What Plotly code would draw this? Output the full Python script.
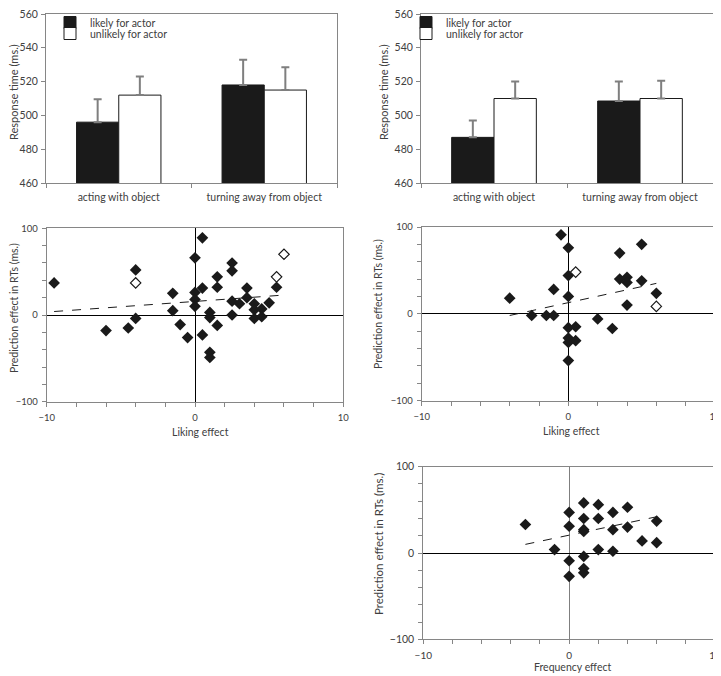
import plotly.graph_objects as go

# ---- top panels: response times (ms.) ----
conditions = ["acting with object", "turning away from object"]
left_likely = [496, 518]
left_likely_err = [13.5, 15]
left_unlikely = [512, 515]
left_unlikely_err = [11, 13.5]
right_likely = [487, 508.5]
right_likely_err = [10, 11.5]
right_unlikely = [510, 510]
right_unlikely_err = [10, 10.5]

# ---- middle-left scatter: liking effect vs prediction effect ----
ml_x = [-9.5, -4, -4, -6, -4.5, -1.5, -1.5, -1, -0.5, 0, 0, 0, 0, 0.5, 0.5, 0.5,
        1, 1, 1, 1, 1.5, 1.5, 1.5, 2.5, 2.5, 2.5, 2.5, 3, 3.5, 3.5, 4, 4, 4,
        4.5, 4.5, 5, 5.5]
ml_y = [37, 52, -4, -18, -15, 25, 5, -11, -26, 66, 26, 18, 10, 89, 31, -23,
        3, -3, -43, -49, 44, 32, -12, 60, 51, 16, 0, 13, 31, 20, 13, 6, -4,
        7, -2, 14, 32]
ml_open_x = [-4, 5.5, 6]
ml_open_y = [37, 44, 70]
ml_trend_x = [-9.5, 6]
ml_trend_y = [4, 23]

# ---- middle-right scatter ----
mr_x = [-0.5, 0, 0, 0, 0, 0, 0, 0, -4, -2.5, -1.5, -1, -1, 0.5, 0.5, 2, 3,
        3.5, 3.5, 4, 4, 4, 5, 5, 6]
mr_y = [91, 76, 44, 20, -16, -28, -33, -54, 18, -2, -2, -2, 28, -15, -31, -6,
        -17, 70, 40, 42, 36, 10, 80, 38, 23.5]
mr_open_x = [0.5, 6]
mr_open_y = [48, 8.5]
mr_trend_x = [-4, 6]
mr_trend_y = [-2, 35]

# ---- bottom scatter: frequency effect vs prediction effect ----
fr_x = [-3, -1, 0, 0, 0, 0, 1, 1, 1, 1, 1, 1, 1, 2, 2, 2, 3, 3, 3, 4, 4, 5, 6, 6]
fr_y = [33, 4, 47, 31, -9, -27, 58, 40, 27, 25, -4, -18, -23, 56, 40, 4, 47,
        27, 2, 53, 30, 14, 37, 12]
fr_trend_x = [-3, 6]
fr_trend_y = [10, 42]

FONT = "Lato, 'Open Sans', sans-serif"
TXT = "#404040"
AXC = "#868686"

W, H = 721, 676
OFF = 8  # page body margin

def px_x(p):
    return min(1, max(0, (p - OFF) / W))
def px_y(p):
    return min(1, max(0, 1 - (p - OFF) / H))
def dx(a, b):
    return [px_x(a), px_x(b)]
def dy(top, bottom):
    return [px_y(bottom), px_y(top)]

fig = go.Figure()

# bar panels
for ax, legs, likely, likely_err, unlikely, unlikely_err in [
        ("", ("legend", "legend2"), left_likely, left_likely_err, left_unlikely, left_unlikely_err),
        ("2", ("legend3", "legend4"), right_likely, right_likely_err, right_unlikely, right_unlikely_err)]:
    fig.add_trace(go.Bar(
        x=conditions, y=likely, name="likely for actor",
        marker=dict(color="#1a1a1a", line=dict(color="#1a1a1a", width=1)),
        error_y=dict(type="data", array=likely_err, arrayminus=[0, 0], symmetric=False,
                     color="#7f7f7f", thickness=2, width=4),
        xaxis="x" + ax, yaxis="y" + ax, legend=legs[0]))
    fig.add_trace(go.Bar(
        x=conditions, y=unlikely, name="unlikely for actor",
        marker=dict(color="white", line=dict(color="#1a1a1a", width=1)),
        error_y=dict(type="data", array=unlikely_err, arrayminus=[0, 0], symmetric=False,
                     color="#7f7f7f", thickness=2, width=4),
        xaxis="x" + ax, yaxis="y" + ax, legend=legs[1]))

# scatter panels
def add_scatter(ax, xs, ys, ox, oy, tx, ty, size):
    fig.add_trace(go.Scatter(x=tx, y=ty, mode="lines", showlegend=False,
                             line=dict(color="#1a1a1a", width=1, dash="dash"),
                             xaxis="x" + ax, yaxis="y" + ax))
    fig.add_trace(go.Scatter(x=xs, y=ys, mode="markers", showlegend=False,
                             marker=dict(symbol="diamond", size=size, color="#1a1a1a"),
                             xaxis="x" + ax, yaxis="y" + ax))
    if ox:
        fig.add_trace(go.Scatter(x=ox, y=oy, mode="markers", showlegend=False,
                                 marker=dict(symbol="diamond", size=size - 1, color="white",
                                             line=dict(color="#1a1a1a", width=1.2)),
                                 xaxis="x" + ax, yaxis="y" + ax))

add_scatter("3", ml_x, ml_y, ml_open_x, ml_open_y, ml_trend_x, ml_trend_y, 9)
add_scatter("4", mr_x, mr_y, mr_open_x, mr_open_y, mr_trend_x, mr_trend_y, 9)
add_scatter("5", fr_x, fr_y, [], [], fr_trend_x, fr_trend_y, 9)

common = dict(showline=True, linecolor=AXC, mirror=True, ticks="outside", ticklen=4,
              tickcolor=AXC, showgrid=False, automargin=False, ticklabeloverflow="allow")

bar_x = dict(common, type="category", tickson="boundaries",
             tickfont=dict(size=10.5, color=TXT), ticklabelstandoff=4)
bar_y = dict(common, range=[460, 560], dtick=20, zeroline=False,
             tickfont=dict(size=10.5, color=TXT), ticklabelstandoff=1)

def sc_x(size, zc="black"):
    return dict(common, range=[-10, 10], dtick=10,
                zeroline=True, zerolinecolor=zc, zerolinewidth=1, ticklabelstandoff=3,
                minor=dict(dtick=2, ticks="outside", ticklen=4, tickcolor=AXC),
                tickfont=dict(size=size, color=TXT))
def sc_y(size):
    return dict(common, range=[-100, 100], dtick=100,
                zeroline=True, zerolinecolor="black", zerolinewidth=1, ticklabelstandoff=2,
                minor=dict(dtick=20, ticks="outside", ticklen=4, tickcolor=AXC),
                tickfont=dict(size=size, color=TXT))

def leg(x, y):
    return dict(x=px_x(x), y=px_y(y), xanchor="left", yanchor="top",
                bgcolor="rgba(0,0,0,0)", font=dict(size=10.5, color=TXT), itemwidth=30)

fig.update_layout(
    width=W, height=H, margin=dict(l=0, r=0, t=0, b=0, autoexpand=False),
    paper_bgcolor="white", plot_bgcolor="white",
    font=dict(family=FONT, size=11, color=TXT),
    barmode="group", bargap=0.42, bargroupgap=0,
    xaxis=dict(bar_x, domain=dx(46, 337), anchor="y"),
    yaxis=dict(bar_y, domain=dy(14, 183), anchor="x"),
    xaxis2=dict(bar_x, domain=dx(421, 713), anchor="y2"),
    yaxis2=dict(bar_y, domain=dy(14, 183), anchor="x2"),
    xaxis3=dict(sc_x(9.5), domain=dx(46.7, 343.3), anchor="y3"),
    yaxis3=dict(sc_y(9.5), domain=dy(228.3, 401.7), anchor="x3"),
    xaxis4=dict(sc_x(9.5), domain=dx(421.7, 715), anchor="y4"),
    yaxis4=dict(sc_y(9.5), domain=dy(227, 400.5), anchor="x4"),
    xaxis5=dict(sc_x(10, zc="#7f7f7f"), domain=dx(423.3, 715), anchor="y5"),
    yaxis5=dict(sc_y(10.5), domain=dy(466.7, 639.3), anchor="x5"),
    legend=leg(50, 4),
    legend2=leg(50, 19),
    legend3=leg(406, 4),
    legend4=leg(406, 19),
)

# axis titles
titles = [
    ("Response time (ms.)", 14, 92, -90, 11),
    ("Response time (ms.)", 384, 92, -90, 11),
    ("Prediction effect in RTs (ms.)", 14, 308, -90, 10.5),
    ("Prediction effect in RTs (ms.)", 378, 304, -90, 10.5),
    ("Prediction effect in RTs (ms.)", 378, 544, -90, 11.5),
    ("Liking effect", 200, 432, 0, 10.5),
    ("Liking effect", 571, 431, 0, 10.5),
    ("Frequency effect", 572, 667, 0, 10.5),
]
for text, px, py, ang, sz in titles:
    fig.add_annotation(text=text, x=px_x(px), y=px_y(py), xref="paper", yref="paper",
                       showarrow=False, textangle=ang, xanchor="center", yanchor="middle",
                       font=dict(size=sz, color=TXT))

fig.write_html("out.html")
